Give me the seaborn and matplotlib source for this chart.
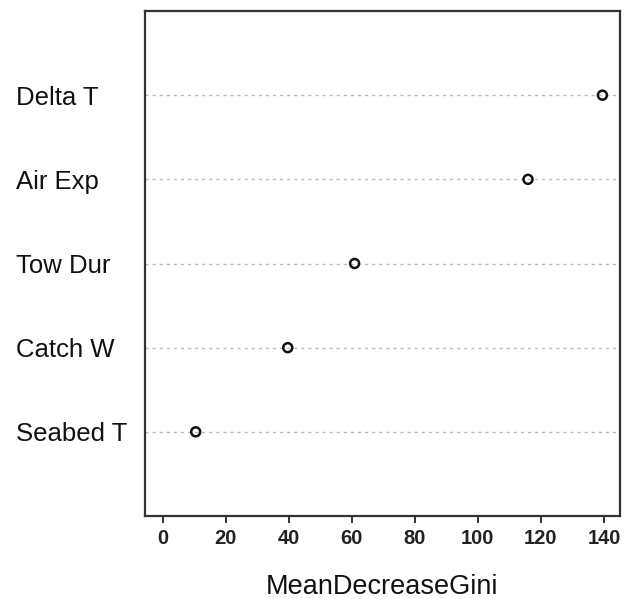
import matplotlib
matplotlib.use("Agg")
import matplotlib.pyplot as plt
import seaborn as sns
import pandas as pd

# data (top-to-bottom order as in the chart)
variables = ["Delta T", "Air Exp", "Tow Dur", "Catch W", "Seabed T"]
mean_decrease_gini = [139.5, 115.9, 60.9, 39.7, 10.5]
x_ticks = [0, 20, 40, 60, 80, 100, 120, 140]

sns.set_theme(style="white")
plt.rcParams["font.family"] = ["Liberation Sans", "DejaVu Sans"]

df = pd.DataFrame({"var": variables[::-1], "gini": mean_decrease_gini[::-1]})

fig = plt.figure(figsize=(6.31, 5.99), dpi=100)
ax = fig.add_axes([145/631, 1-516/599, (620-145)/631, (516-11)/599])

sns.scatterplot(data=df, x="gini", y="var", ax=ax, s=42, marker="o",
                facecolor="none", edgecolor="#111111", linewidth=1.8, zorder=3)

ax.set_xlim(-0.04*max(mean_decrease_gini), 1.04*max(mean_decrease_gini))
ax.set_ylim(-1, len(variables))
ax.set_xticks(x_ticks)
ax.set_xticklabels([str(t) for t in x_ticks], fontweight="bold", fontsize=14.5, color="#222222")
ax.grid(axis="y", linestyle=(0, (2.2, 2.9)), color="#bbbbbb", linewidth=1.0)
ax.grid(axis="x", visible=False)

for s in ax.spines.values():
    s.set_color("#333333")
    s.set_linewidth(1.6)

ax.tick_params(axis="x", bottom=True, length=5, width=1.4, color="#333333", pad=4)
ax.tick_params(axis="y", left=False, length=0, pad=(145-16)*0.72, labelsize=18.5)
for lab in ax.get_yticklabels():
    lab.set_horizontalalignment("left")
    lab.set_color("#111111")

ax.set_ylabel("")
ax.set_xlabel("MeanDecreaseGini", fontsize=19.5, color="#111111")
ax.xaxis.set_label_coords(0.5, -(594-516)/505)
ax.xaxis.label.set_verticalalignment("baseline")

fig.savefig("out.png", dpi=100)
